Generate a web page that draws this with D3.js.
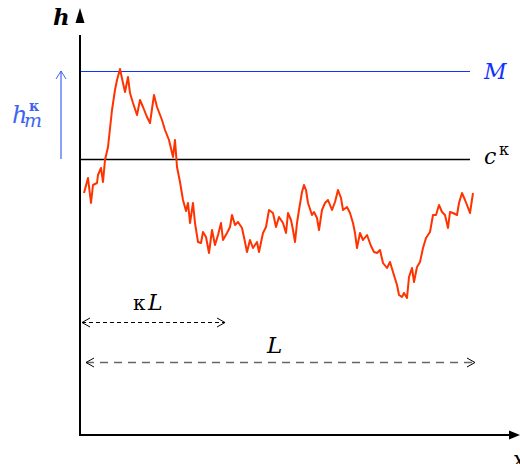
<!DOCTYPE html>
<html>
<head>
<meta charset="utf-8">
<title>d3</title>
<style>
body { margin: 0; background: #fff; }
</style>
</head>
<body>
<script src="https://cdn.jsdelivr.net/npm/d3@7"></script>
<script>
var xs = [4, 8, 11, 13, 17, 18, 21, 23, 25, 28, 32, 35, 37, 40, 43, 45, 48, 50, 53, 57, 60, 63, 67, 70, 74, 77, 82, 85, 89, 93, 95, 97,
  100, 103, 106, 108, 110, 113, 115, 118, 121, 123, 126, 129, 132, 135, 138, 141, 143, 147, 150, 152, 155, 158, 162, 165, 167, 170,
  173, 177, 179, 183, 186, 189, 193, 196, 199, 203, 206, 208, 211, 213, 215, 217, 219, 222, 224, 226, 228, 232, 234, 237, 239, 242,
  245, 248, 252, 255, 258, 261, 263, 267, 270, 273, 275, 277, 280, 283, 287, 291, 294, 297, 300, 303, 307, 310, 313, 317, 319, 322,
  324, 327, 329, 332, 334, 337, 340, 343, 346, 350, 353, 356, 359, 362, 365, 368, 370, 373, 377, 379, 382, 385, 387, 390, 393];
var hs = [242, 257, 232, 250, 252, 260, 267, 253, 275, 288, 325, 345, 355, 366, 352, 343, 358, 342, 332, 320, 335, 328, 318, 312, 340, 328, 315, 305, 295, 278, 295, 268,
  253, 235, 224, 232, 212, 232, 212, 193, 192, 203, 198, 182, 205, 190, 200, 212, 195, 202, 208, 220, 210, 213, 207, 193, 183, 195,
  187, 193, 183, 202, 208, 225, 222, 208, 218, 212, 202, 222, 215, 205, 193, 212, 225, 243, 250, 245, 232, 220, 223, 217, 205, 225,
  232, 235, 225, 233, 245, 237, 225, 228, 222, 212, 202, 187, 202, 195, 200, 189, 183, 182, 185, 172, 167, 173, 163, 150, 140, 138,
  142, 137, 158, 167, 153, 168, 173, 187, 197, 203, 220, 220, 230, 223, 220, 207, 223, 222, 220, 232, 242, 235, 230, 222, 242];

var levelM = 364, levelC = 276;      // M and c^kappa
var kappaL = [0, 145], fullL = [4, 395];
var lineEnd = 390;

var W = 520, H = 464;
var x = d3.scaleLinear().domain([0, 440]).range([80, 520]);
var y = d3.scaleLinear().domain([0, 427]).range([435, 8]);

var svg = d3.select("body").append("svg")
  .attr("width", W).attr("height", H);

var serif = "DejaVu Serif";
function label(px, py, size, str) {
  return svg.append("text").attr("x", px).attr("y", py)
    .attr("font-family", serif).attr("font-size", size).text(str);
}

var blue = "#1133ff", lightBlue = "#3f63f0", red = "#ff3300";

// level lines
svg.append("line")
  .attr("x1", x(0)).attr("x2", x(lineEnd))
  .attr("y1", y(levelM) + 0.5).attr("y2", y(levelM) + 0.5)
  .style("stroke", blue).style("stroke-width", 1)
  .style("shape-rendering", "crispEdges");
svg.append("line")
  .attr("x1", x(0)).attr("x2", x(lineEnd))
  .attr("y1", y(levelC) + 0.5).attr("y2", y(levelC) + 0.5)
  .style("stroke", "#000").style("stroke-width", 1.3);

// the red trace
var pts = xs.map(function(d, i) { return [d, hs[i]]; });
svg.append("path")
  .attr("d", d3.line().x(function(d) { return x(d[0]); }).y(function(d) { return y(d[1]); })(pts))
  .style("fill", "none").style("stroke", red).style("stroke-width", 2)
  .style("stroke-linejoin", "round");

// axes
svg.append("line").attr("x1", x(0)).attr("x2", x(0)).attr("y1", y(0)).attr("y2", y(400))
  .style("stroke", "#000").style("stroke-width", 2);
svg.append("line").attr("x1", x(0) - 1).attr("x2", x(430)).attr("y1", y(0)).attr("y2", y(0))
  .style("stroke", "#000").style("stroke-width", 2);
svg.append("path")
  .attr("d", "M" + x(0) + "," + y(427) + "L" + (x(0) - 4.5) + "," + (y(427) + 15) + "L" + (x(0) + 4.5) + "," + (y(427) + 15) + "Z")
  .style("fill", "#000");
svg.append("path")
  .attr("d", "M" + x(440) + "," + y(0) + "L" + (x(440) - 11) + "," + (y(0) - 4.5) + "L" + (x(440) - 11) + "," + (y(0) + 4.5) + "Z")
  .style("fill", "#000");

label(53, 25, 23, "h").style("font-style", "italic").style("font-weight", "bold");
label(513, 467, 22, "x").style("font-style", "italic");

// h_m^kappa arrow
var ax = 61;
svg.append("line").attr("x1", ax).attr("x2", ax).attr("y1", y(levelC)).attr("y2", y(levelM))
  .style("stroke", lightBlue).style("stroke-width", 1.2);
svg.append("path")
  .attr("d", "M" + (ax - 5) + "," + (y(levelM) + 8) + "L" + ax + "," + y(levelM) + "L" + (ax + 5) + "," + (y(levelM) + 8))
  .style("fill", "none").style("stroke", lightBlue).style("stroke-width", 1);
var hm = label(12, 123, 24, "").style("fill", lightBlue).style("font-style", "italic");
hm.append("tspan").text("h");
hm.append("tspan").attr("x", 24).attr("y", 127).attr("font-size", 19).text("m");
hm.append("tspan").attr("x", 29).attr("y", 111).attr("font-size", 14)
  .style("font-style", "normal").style("font-weight", "bold").text("κ");

// level labels
label(484, 79, 22, "M").style("fill", blue).style("font-style", "italic");
var ck = label(484, 164, 22, "").style("font-style", "italic");
ck.append("tspan").text("c");
ck.append("tspan").attr("x", 499).attr("y", 155).attr("font-size", 16).style("font-style", "normal").text("κ");

// dashed length arrows
function dimArrow(r, yy, colour, dash, w) {
  var x0 = x(r[0]) + 2, x1 = x(r[1]);
  svg.append("line").attr("x1", x0).attr("x2", x1).attr("y1", yy).attr("y2", yy)
    .style("stroke", colour).style("stroke-width", w).style("stroke-dasharray", dash);
  svg.append("path").attr("d", "M" + (x0 + 8) + "," + (yy - 4.5) + "L" + x0 + "," + yy + "L" + (x0 + 8) + "," + (yy + 4.5))
    .style("fill", "none").style("stroke", "#000").style("stroke-width", 1);
  svg.append("path").attr("d", "M" + (x1 - 8) + "," + (yy - 4.5) + "L" + x1 + "," + yy + "L" + (x1 - 8) + "," + (yy + 4.5))
    .style("fill", "none").style("stroke", "#000").style("stroke-width", 1);
}
dimArrow(kappaL, 322.5, "#000", "4,3", 1);
dimArrow(fullL, 362.5, "#666", "8,6", 1.3);

var kl = label(133, 310, 20, "");
kl.append("tspan").text("κ");
kl.append("tspan").attr("x", 148).attr("font-size", 22).style("font-style", "italic").text("L");
label(267, 353, 23, "L").style("font-style", "italic");
</script>
</body>
</html>
